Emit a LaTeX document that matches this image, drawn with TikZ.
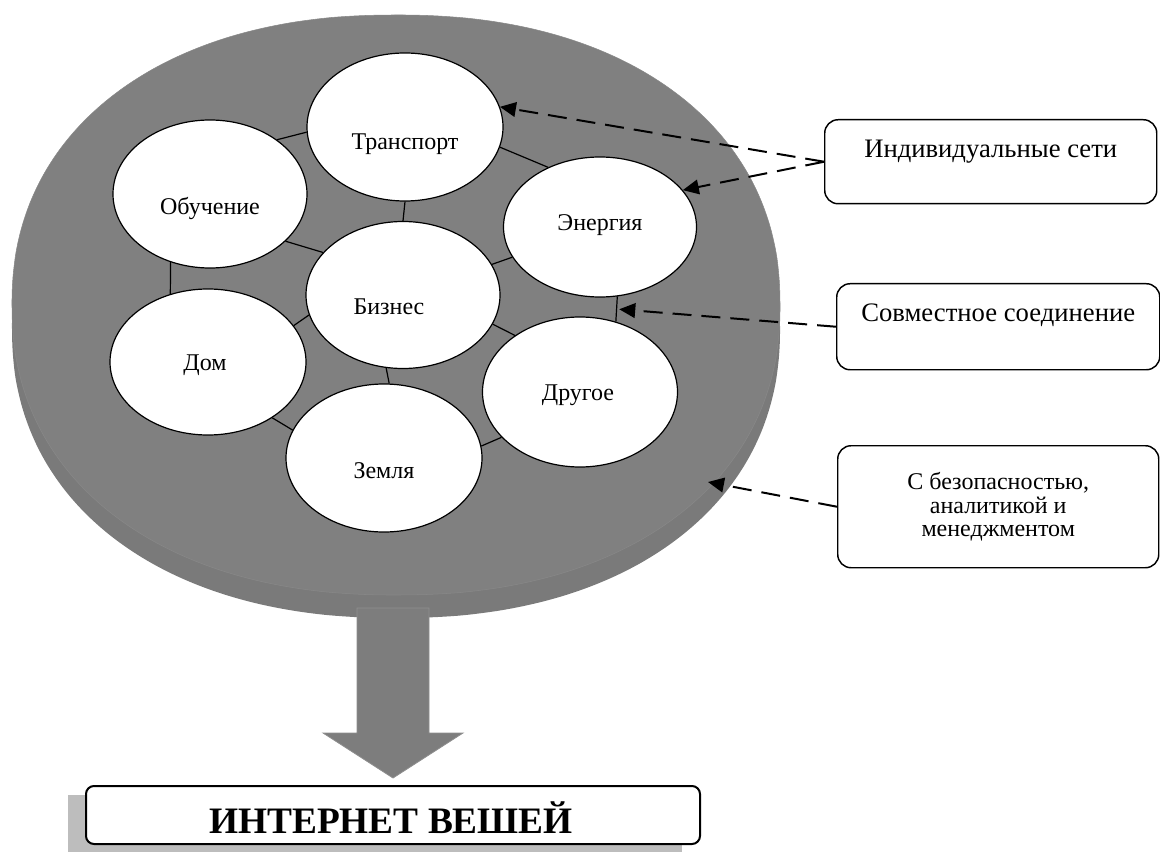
\documentclass[tikz,border=0pt]{standalone}
\usepackage{fontspec}
\setmainfont{Liberation Serif}
\usetikzlibrary{arrows.meta,shapes.geometric}
\definecolor{discfill}{HTML}{808080}
\definecolor{discside}{HTML}{7A7A7A}
\definecolor{discrim}{HTML}{888888}
\definecolor{shadowgray}{HTML}{BDBDBD}
\definecolor{arrowgray}{HTML}{7D7D7D}
\definecolor{arrowedge}{HTML}{8E8E8E}
\newcommand\btext[3]{\raisebox{#2}[0pt][0pt]{\makebox[0pt][c]{\hspace*{#1}#3\hspace*{-#1}}}}
\tikzset{
  bubble/.style={ellipse, draw, line width=0.9pt, fill=white, inner sep=0pt,
    font=\fontsize{18}{21}\selectfont},
  link/.style={line width=0.9pt},
  infobox/.style={draw, line width=1.1pt, rounded corners=10pt, fill=white,
    inner sep=0pt, anchor=north west},
  dasharrow/.style={line width=1.5pt, dash pattern=on 14.25pt off 7.5pt,
    -{Triangle[length=12pt,width=11pt]}}
}
\begin{document}
\begin{tikzpicture}[x=0.75pt,y=-0.75pt]
\useasboundingbox (0,0) rectangle (1160,852);
\def\discpath{plot[smooth cycle, domain=0.5:358.5, samples=180, variable=\t]
  ({396+384*sign(cos(\t))*abs(cos(\t))^0.909}, {305+290*sign(sin(\t))*abs(sin(\t))^0.909})}
% disc side and top face
\begin{scope}[yshift=-17.25pt]
  \fill[discside] \discpath;
\end{scope}
\filldraw[fill=discfill, draw=discrim, line width=0.4pt] \discpath;
% block arrow
\filldraw[fill=arrowgray, draw=arrowedge, line width=0.6pt]
  (357,608) -- (429,608) -- (429,733) -- (463,733) -- (393,778) -- (323,733) -- (357,733) -- cycle;
% bottom box
\fill[shadowgray] (68,795) rectangle (682,860);
\node[infobox, rounded corners=6pt, line width=1.5pt] (iot) at (85,785)
  {\parbox[c][43.5pt][t]{460.5pt}{\centering\rule{0pt}{35.25pt}\hspace*{-3pt}\fontsize{28}{32}\selectfont\bfseries ИНТЕРНЕТ ВЕШЕЙ}};
% ellipses
\node[bubble, minimum width=147pt, minimum height=111pt] (tr) at (405,127) {\btext{0pt}{-17.25pt}{Транспорт}};
\node[bubble, minimum width=145.5pt, minimum height=111pt] (ob) at (210,194) {\btext{0pt}{-15.75pt}{Обучение}};
\node[bubble, minimum width=144.75pt, minimum height=105pt] (en) at (600,227) {\btext{0pt}{-3pt}{Энергия}};
\node[bubble, minimum width=145.5pt, minimum height=110.25pt] (bz) at (403,295) {\btext{-10.5pt}{-15pt}{Бизнес}};
\node[bubble, minimum width=147pt, minimum height=109.5pt] (dm) at (208,362) {\btext{-2.25pt}{-6pt}{Дом}};
\node[bubble, minimum width=146.25pt, minimum height=112.5pt] (dr) at (580,392) {\btext{-1.5pt}{-6pt}{Другое}};
\node[bubble, minimum width=147pt, minimum height=111pt] (zm) at (384,458) {\btext{0pt}{-15pt}{Земля}};
% links between ellipses
\draw[link] (ob.39.5) -- (tr.183.5);
\draw[link] (ob.328) -- (bz.152);
\draw[link] (ob.240) -- (dm.119.6);
\draw[link] (tr.270) -- (bz.90);
\draw[link] (tr.-12) -- (en.131);
\draw[link] (bz.19.6) -- (en.199.4);
\draw[link] (en.284) -- coordinate[pos=0.5] (jc) (dr.63.8);
\draw[link] (bz.342) -- (dr.139.6);
\draw[link] (bz.192.9) -- (dm.23.8);
\draw[link] (bz.257.8) -- (zm.86);
\draw[link] (dm.319) -- (zm.163.4);
\draw[link] (zm.7.6) -- (dr.210);
% right boxes
\node[infobox, font=\fontsize{20}{23}\selectfont] (b1) at (824,119)
  {\parbox[c][63pt][t]{249pt}{\centering\rule{0pt}{28.5pt}Индивидуальные сети}};
\node[infobox, font=\fontsize{20}{23}\selectfont] (b2) at (836,283)
  {\parbox[c][64.5pt][t]{242.25pt}{\centering\rule{0pt}{28.5pt}Совместное соединение}};
\node[infobox, font=\fontsize{18}{17.5}\selectfont] (b3) at (837,445)
  {\parbox[c][91.5pt][t]{240.75pt}{\centering\rule{0pt}{33pt}С безопасностью,\\ аналитикой и\\ менеджментом}};
\coordinate (rim) at (708,482);
% dashed arrows
\draw[dasharrow] (b1.west) -- (tr.12);
\draw[dasharrow] (b1.west) -- (en.24);
\draw[dasharrow, shorten >=2pt] (b2.west) -- (jc);
\draw[dasharrow] (b3.west) -- (rim);
\end{tikzpicture}
\end{document}
